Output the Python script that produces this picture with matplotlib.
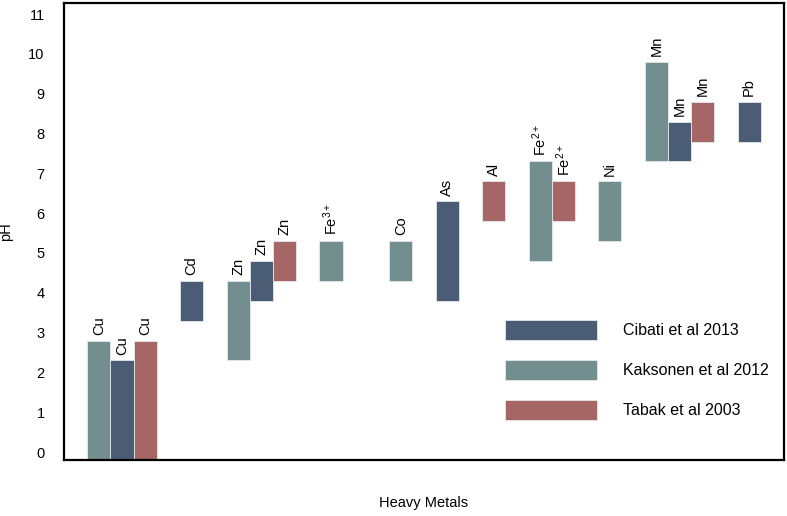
import matplotlib
matplotlib.use("Agg")
import matplotlib.pyplot as plt
from matplotlib.patches import Patch

plt.rcParams["font.family"] = ["Liberation Sans", "DejaVu Sans"]
plt.rcParams["mathtext.fontset"] = "custom"
plt.rcParams["mathtext.rm"] = "Liberation Sans"
plt.rcParams["mathtext.it"] = "Liberation Sans"
plt.rcParams["mathtext.bf"] = "Liberation Sans"

# ---- data (pH ranges per metal and study) ----
series_names = ["Cibati et al 2013", "Kaksonen et al 2012", "Tabak et al 2003"]
bar_metals = ["Cu", "Cu", "Cu", "Cd", "Zn", "Zn", "Zn", "Fe3+", "Co", "As",
              "Al", "Fe2+", "Fe2+", "Ni", "Mn", "Mn", "Mn", "Pb"]
bar_series = ["Kaksonen et al 2012", "Cibati et al 2013", "Tabak et al 2003",
              "Cibati et al 2013",
              "Kaksonen et al 2012", "Cibati et al 2013", "Tabak et al 2003",
              "Kaksonen et al 2012", "Kaksonen et al 2012", "Cibati et al 2013",
              "Tabak et al 2003",
              "Kaksonen et al 2012", "Tabak et al 2003",
              "Kaksonen et al 2012",
              "Kaksonen et al 2012", "Cibati et al 2013", "Tabak et al 2003",
              "Cibati et al 2013"]
bar_low = [-0.2, -0.2, -0.2, 3.3, 2.3, 3.8, 4.3, 4.3, 4.3, 3.8,
           5.8, 4.8, 5.8, 5.3, 7.3, 7.3, 7.8, 7.8]
bar_high = [2.8, 2.3, 2.8, 4.3, 4.3, 4.8, 5.3, 5.3, 5.3, 6.3,
            6.8, 7.3, 6.8, 6.8, 9.8, 8.3, 8.8, 8.8]
y_ticks = list(range(0, 12))

# ---- styles ----
colors = {"Cibati et al 2013": "#4b5d75",
          "Kaksonen et al 2012": "#728e8e",
          "Tabak et al 2003": "#a66666"}
label_text = {"Fe3+": r"Fe$^{3+}$", "Fe2+": r"Fe$^{2+}$"}
extra_gap_before = {"Co": 1}

fig = plt.figure(figsize=(7.87, 5.16), dpi=100)
ax = fig.add_axes([64 / 787, 1 - 460 / 516, (784 - 64) / 787, (460 - 3) / 516])

# layout positions: adjacent bars within a metal, one empty slot between metals
positions = []
cursor = 0
prev = None
for m in bar_metals:
    if prev is not None and m != prev:
        cursor += 1 + extra_gap_before.get(m, 0)
    positions.append(cursor)
    cursor += 1
    prev = m

for x, m, s, lo, hi in zip(positions, bar_metals, bar_series, bar_low, bar_high):
    ax.bar(x, hi - lo, bottom=lo, width=1.0, color=colors[s],
           edgecolor="#e4e8ec", linewidth=0.6, zorder=2)
    ax.annotate(label_text.get(m, m), xy=(x, hi), xytext=(0, 4),
                textcoords="offset points", rotation=90, ha="center",
                va="bottom", fontsize=10.5, color="black")

ax.set_xlim(-1.5, 29.5)
ax.set_ylim(-0.2, 11.28)
ax.set_yticks(y_ticks)
ax.set_xticks([])
ax.tick_params(axis="y", length=0, pad=14, labelsize=10.5)
for sp in ax.spines.values():
    sp.set_linewidth(1.6)
    sp.set_color("black")

ax.set_xlabel("Heavy Metals", fontsize=10.5, labelpad=26)
ax.set_ylabel("pH", fontsize=10.5, labelpad=11)

handles = [Patch(facecolor=colors[n], edgecolor="#e4e8ec", linewidth=0.6)
           for n in series_names]
ax.legend(handles, series_names, loc="upper left",
          bbox_to_anchor=(505 / 787, 1 - 320 / 516),
          bbox_transform=fig.transFigure, frameon=False, fontsize=11.5,
          handlelength=5.78, handleheight=1.53, labelspacing=1.27,
          handletextpad=1.6, borderpad=0, borderaxespad=0)

fig.savefig("out.png", dpi=100)
